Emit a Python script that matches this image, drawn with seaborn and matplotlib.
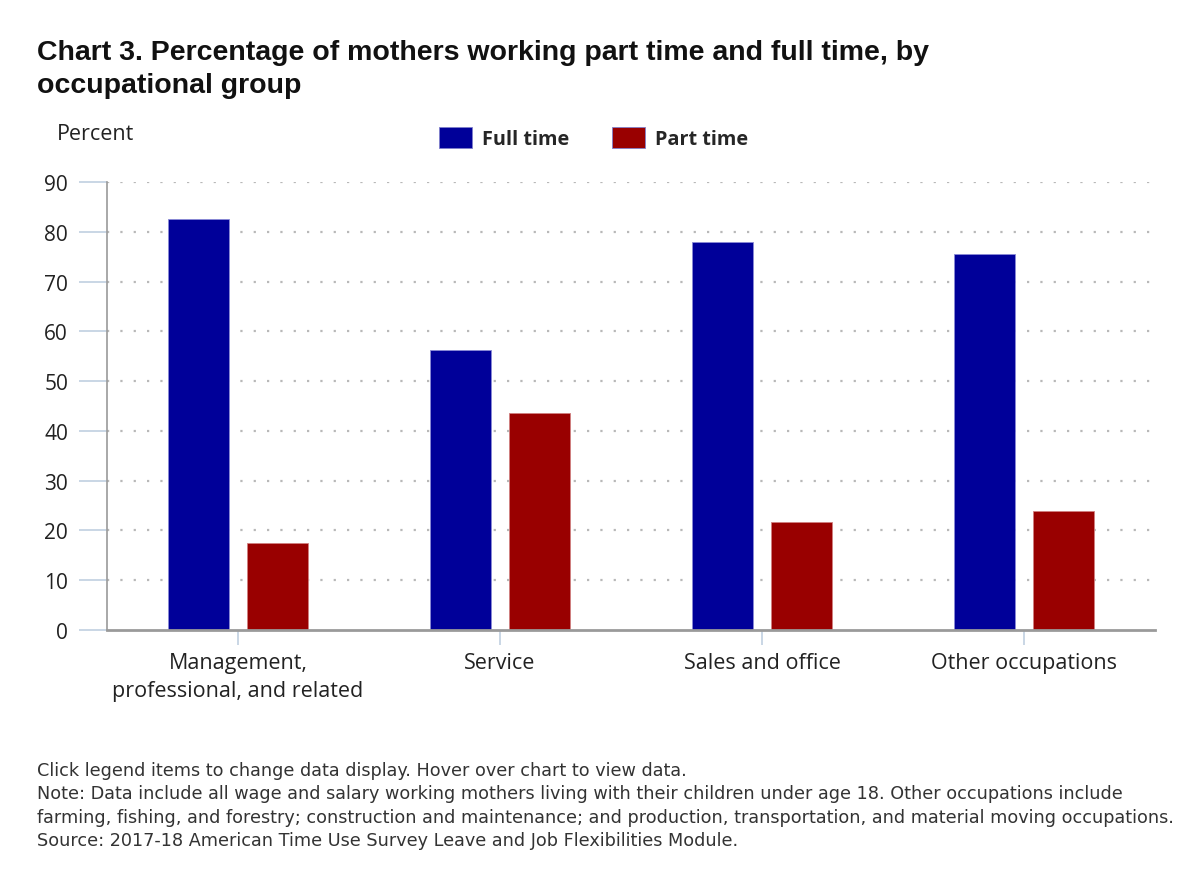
import matplotlib
matplotlib.use("Agg")
import matplotlib.pyplot as plt
import seaborn as sns
import pandas as pd

# Data
categories = ["Management,\nprofessional, and related", "Service", "Sales and office", "Other occupations"]
full_time = [82.5, 56.2, 77.9, 75.5]
part_time = [17.5, 43.6, 21.7, 23.9]
series_names = ["Full time", "Part time"]
y_ticks = [0, 10, 20, 30, 40, 50, 60, 70, 80, 90]

title = "Chart 3. Percentage of mothers working part time and full time, by\noccupational group"
footer = ("Click legend items to change data display. Hover over chart to view data.\n"
          "Note: Data include all wage and salary working mothers living with their children under age 18. Other occupations include\n"
          "farming, fishing, and forestry; construction and maintenance; and production, transportation, and material moving occupations.\n"
          "Source: 2017-18 American Time Use Survey Leave and Job Flexibilities Module.")

df = pd.DataFrame({
    "group": categories * 2,
    "series": [series_names[0]] * len(categories) + [series_names[1]] * len(categories),
    "value": full_time + part_time,
})

sns.set_theme(style="white")
plt.rcParams["font.family"] = ["Open Sans", "DejaVu Sans"]

W, H = 1200, 878
fig = plt.figure(figsize=(W / 100, H / 100), dpi=100)
ax = fig.add_axes([107 / W, 1 - 631 / H, (1155 - 107) / W, (631 - 183) / H])

palette = {"Full time": "#000099", "Part time": "#990000"}
sns.barplot(data=df, x="group", y="value", hue="series", palette=palette,
            width=0.6, gap=0.22, ax=ax, saturation=1, legend=True,
            edgecolor="#8080cc", linewidth=0.6)
for c, container in enumerate(ax.containers):
    ec = "#8a8ad6" if c == 0 else "#d08080"
    for bar in container:
        bar.set_edgecolor(ec)

ax.set_xlim(-0.5, 3.5)
ax.set_ylim(0, 90)
ax.set_yticks(y_ticks)
ax.set_xlabel("")
ax.set_ylabel("")

# Dotted horizontal grid
for t in y_ticks[1:]:
    ax.axhline(t, color="#b8b8b8", linestyle=(0, (1, 5)), linewidth=1.6, zorder=0)

for s in ["top", "right"]:
    ax.spines[s].set_visible(False)
ax.spines["left"].set_color("#9a9a9a")
ax.spines["left"].set_linewidth(1.2)
ax.spines["bottom"].set_color("#9a9a9a")
ax.spines["bottom"].set_linewidth(2)

ax.tick_params(axis="y", which="both", left=True, length=20, width=1.2, color="#c0d0e0",
               labelsize=15, labelcolor="#222222", pad=8)
ax.tick_params(axis="x", which="both", bottom=True, length=11, width=1.2, color="#c0d0e0",
               labelsize=15.5, labelcolor="#222222", pad=5)
for lbl in ax.get_xticklabels():
    lbl.set_linespacing(1.45)

# Legend
handles, labels = ax.get_legend_handles_labels()
ax.legend(handles, labels, loc="center left", bbox_to_anchor=(439 / W, 1 - 139 / H),
          bbox_transform=fig.transFigure, ncol=2, frameon=False, borderaxespad=0,
          borderpad=0, handlelength=1.66, handleheight=1.26, handletextpad=0.5,
          columnspacing=2.15, prop={"family": "Open Sans", "weight": "bold", "size": 14.3})

# Title, axis caption, footer
fig.text(37 / W, 1 - 40 / H, title, ha="left", va="top", fontsize=20.5, fontweight="bold",
         family="Liberation Sans", color="#111111", linespacing=1.36)
fig.text(57 / W, 1 - 134 / H, "Percent", ha="left", va="center", fontsize=15.5,
         color="#222222")
fig.text(37 / W, 1 - 762 / H, footer, ha="left", va="top", fontsize=12.7, family="DejaVu Sans",
         color="#333333", linespacing=1.39)

fig.savefig("out.png", dpi=100, facecolor="white")
